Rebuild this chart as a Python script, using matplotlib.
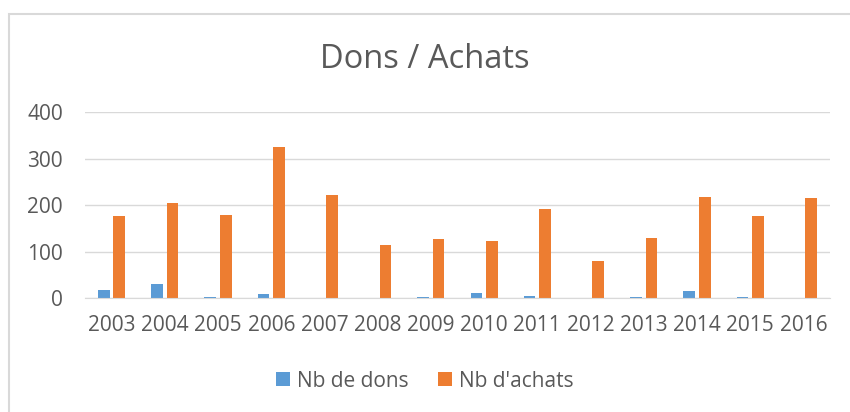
import matplotlib.pyplot as plt
import numpy as np
from matplotlib.patches import Rectangle

years = ['2003', '2004', '2005', '2006', '2007', '2008', '2009',
         '2010', '2011', '2012', '2013', '2014', '2015', '2016']
nb_dons = [18, 31, 2, 8, 1, 0, 2, 11, 4, 0, 3, 16, 2, 1]
nb_achats = [177, 205, 178, 325, 222, 113, 128, 122, 191, 80, 130, 218, 176, 215]

plt.rcParams['font.family'] = ['Open Sans', 'DejaVu Sans']
text_color = '#595959'

fig = plt.figure(figsize=(8.5, 4.12), dpi=100)
# chart frame (right and bottom edges are cut off in the original)
fig.patches.append(Rectangle((0.0106, -0.1), 1.2, 1.066, transform=fig.transFigure,
                             fill=False, edgecolor='#d9d9d9', linewidth=1.5))
ax = fig.add_axes([0.1, 0.2767, 0.8765, 0.4513])

x = np.arange(len(years))
w = 0.22
ax.bar(x - 0.145, nb_dons, w, color='#5b9bd5', label='Nb de dons')
ax.bar(x + 0.145, nb_achats, w, color='#ed7d31', label="Nb d'achats")

ax.set_xlim(-0.5, len(years) - 0.5)
ax.set_ylim(0, 400)
ax.set_yticks([0, 100, 200, 300, 400])
ax.set_xticks(x)
ax.set_xticklabels(years)
ax.tick_params(length=0, labelsize=15, colors=text_color)
ax.tick_params(axis='y', pad=16)
ax.tick_params(axis='x', pad=12)
ax.yaxis.grid(True, color='#d9d9d9', linewidth=1)
ax.set_axisbelow(True)
for s in ['top', 'right', 'left']:
    ax.spines[s].set_visible(False)
ax.spines['bottom'].set_color('#d9d9d9')

fig.text(0.5, 0.855, 'Dons / Achats', ha='center', va='center', fontsize=23.5, color=text_color)
fig.legend(loc='center', bbox_to_anchor=(0.5, 0.075), ncol=2, frameon=False,
           fontsize=15, labelcolor=text_color, handlelength=0.65, handleheight=0.65,
           columnspacing=1.4, handletextpad=0.35)

fig.savefig('out.png', dpi=100)
